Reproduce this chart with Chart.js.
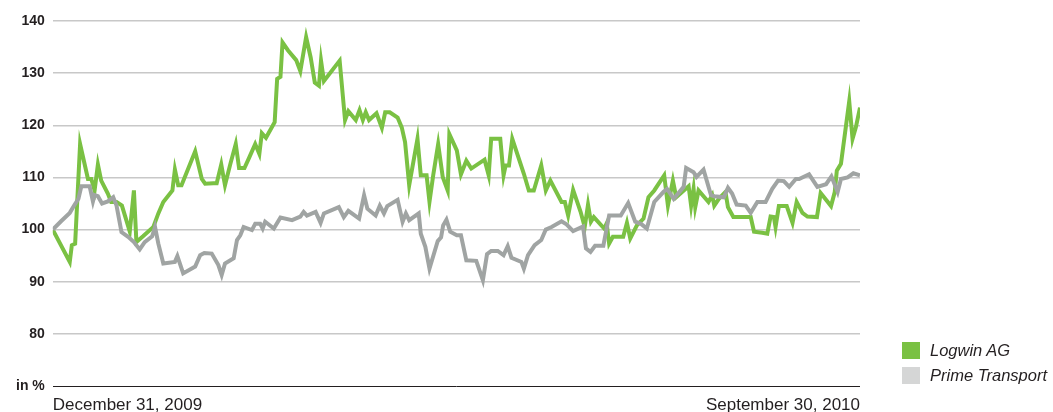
<!DOCTYPE html>
<html>
<head>
<meta charset="utf-8">
<script src="https://cdn.jsdelivr.net/npm/chart.js@4"></script>
<style>
  body { margin: 0; background: #fff; }
  #wrap { position: relative; width: 1053px; height: 412px; }
  .legend { position: absolute; left: 902px; font: italic 16.5px "Liberation Sans", Arial, sans-serif; color: #231f20; }
  .legend span { display: inline-block; width: 18px; height: 17px; vertical-align: middle; margin-right: 10px; position: relative; top: -1px; }
</style>
</head>
<body>
<div id="wrap">
  <canvas id="linechart"></canvas>
  <div class="legend" style="top:341px"><span style="background:#7ac143"></span>Logwin AG</div>
  <div class="legend" style="top:366px"><span style="background:#d5d6d6"></span>Prime Transport</div>
</div>
<script>
// trading days since December 31, 2009 (0 .. 195) and index values in %
const logwinDays = [0,4.1,4.6,5.4,6.6,8.5,9.3,10.1,10.9,11.7,
  13.3,14.1,15.4,16.7,18.6,19.6,20.2,21.8,24.3,25.5,
  26.7,28.9,29.5,30.3,31.1,34.4,36.0,36.8,38.8,39.6,
  40.7,41.6,42.9,44.2,45.0,46.3,47.5,48.9,49.9,50.5,
  51.5,53.6,54.2,55.0,55.5,56.8,58.8,59.8,61.2,62.3,
  63.3,64.3,64.8,65.5,69.3,70.6,71.4,73.2,74.1,74.9,
  75.6,76.4,78.2,79.5,80.3,81.4,83.3,84.3,85.1,86.1,
  88.1,88.9,90.3,91.0,91.9,93.1,94.2,95.4,95.8,97.6,
  98.6,99.9,101.1,104.3,105.3,105.9,108.1,108.9,109.4,110.2,
  111.0,113.8,115.0,116.2,118.0,119.1,120.2,122.9,123.7,124.5,
  125.7,127.5,128.5,129.3,130.0,130.7,133.2,133.8,134.4,135.3,
  137.8,138.7,139.5,141.1,142.7,143.9,145.3,147.7,148.6,149.8,
  150.6,153.6,154.2,154.8,155.2,156.0,158.4,159.3,159.8,160.9,
  162.5,163.1,164.4,168.6,169.4,171.4,172.6,173.4,174.2,174.6,
  175.4,177.3,178.7,179.7,181.1,182.3,184.6,185.5,188.0,188.9,
  189.4,190.4,192.4,193.2,194.0,195];
const logwinValues = [100,93.8,97.0,97.3,116.4,109.7,109.7,107.5,112.5,109.4,
  106.9,105.3,105.3,104.6,99.6,107.5,97.6,98.7,100.5,103.1,
  105.3,107.5,111.5,108.5,108.5,115.0,109.7,108.8,108.9,108.9,
  112.5,108.5,112.6,116.4,111.8,111.8,113.9,116.4,114.5,118.5,
  117.6,120.6,128.9,129.3,135.9,134.4,132.5,130.4,136.9,133.0,
  128.2,127.6,132.4,128.5,132.4,121.0,122.7,121.0,122.9,121.0,
  122.5,121.0,122.3,119.5,122.5,122.5,121.5,119.6,116.8,108.5,
  117.4,110.4,110.4,105.3,110.4,116.4,110.1,107.5,118.3,115.2,
  110.6,113.2,111.7,113.4,110.4,117.4,117.4,110.4,112.3,112.3,
  117.4,110.7,107.5,107.5,112.3,107.5,109.4,105.3,105.3,102.7,
  107.6,103.4,100.5,104.8,101.5,102.4,100.2,101.2,97.3,98.6,
  98.6,101.3,98.3,100.8,102.1,106.2,107.5,110.4,104.6,109.4,
  106.2,108.3,104.6,107.8,104.3,107.5,105.3,106.6,104.6,105.9,
  107.2,104.3,102.4,102.4,99.6,99.4,99.2,102.5,102.4,100.5,
  104.5,104.5,101.3,105.3,103.2,102.5,102.4,107.0,104.5,107.2,
  111.3,112.6,124.6,117.4,119.6,123.4];

const primeDays = [0,2.0,4.1,5.3,6.2,6.9,8.9,9.7,10.1,10.9,
  11.9,13.3,14.6,15.4,16.6,18.2,19.6,21.0,22.2,24.0,
  24.7,25.5,26.7,29.5,30.1,31.5,34.4,35.6,36.6,38.4,
  40.0,40.8,41.6,43.7,44.5,45.3,46.1,48.1,48.9,50.1,
  50.7,51.3,53.4,55.0,57.8,59.8,60.6,61.4,63.5,64.7,
  65.5,69.1,70.3,71.4,74.0,75.2,76.0,78.0,79.0,80.0,
  80.8,83.3,84.5,85.3,86.1,88.4,88.9,90.0,91.0,93.0,
  93.8,94.3,95.1,96.0,97.6,98.6,99.9,102.3,103.9,104.9,
  105.9,107.5,108.9,109.9,110.8,113.2,113.8,114.8,116.4,118.0,
  119.1,120.5,122.9,124.1,125.7,128.1,128.8,129.9,131.0,133.0,
  134.4,137.2,139.0,140.7,142.1,143.5,145.3,147.5,148.4,150.0,
  152.4,153.0,154.8,155.5,157.2,159.0,159.8,162.1,163.1,164.1,
  165.2,167.4,168.6,170.2,172.2,173.8,175.2,176.6,177.9,179.5,
  180.3,182.7,184.7,186.8,188.1,189.6,190.4,192.0,193.4,195];
const primeValues = [100,101.6,103.2,104.8,105.9,108.3,108.3,105.4,106.6,106.4,
  105.0,105.4,106.2,104.6,99.5,98.6,97.6,96.2,97.6,98.7,
  100.5,97.3,93.5,93.8,94.9,91.6,92.9,95.1,95.5,95.4,
  93.2,91.3,93.5,94.5,98.0,98.9,100.5,99.9,101.1,101.1,
  100.2,101.5,100.2,102.3,101.8,102.5,103.4,102.7,103.4,101.3,
  103.1,104.3,102.4,103.6,102.1,106.6,104.0,102.7,104.6,103.1,
  104.5,105.7,101.5,103.1,101.8,103.1,99.2,96.7,92.5,97.8,
  98.5,100.8,101.9,99.6,98.9,98.9,94.1,94.0,90.3,95.3,
  95.9,95.9,95.1,96.8,94.6,93.8,92.5,95.1,97.0,98.0,
  100.0,100.5,101.6,101.0,99.7,100.6,96.4,95.7,96.9,96.9,
  102.7,102.7,105.1,101.5,101.1,100.2,105.3,107.2,107.8,105.9,
  108.2,111.8,111.0,110.1,111.5,106.6,106.4,106.2,108.0,106.9,
  104.8,104.6,103.2,105.3,105.3,107.8,109.4,109.3,108.2,109.7,
  109.7,110.6,108.2,108.7,110.2,107.2,109.7,110.0,110.8,110.4];

const dateLabels = ['December 31, 2009', 'September 30, 2010'];
const dateTicks = [0, 195];
const yTicks = [70, 80, 90, 100, 110, 120, 130, 140];
const yUnitLabel = 'in %';

function toPoints(days, values) {
  return days.map((d, i) => ({ x: d, y: values[i] }));
}

const ctx = document.getElementById('linechart');

new Chart(ctx, {
  type: 'line',
  data: {
    datasets: [{
      label: 'Prime Transport',
      data: toPoints(primeDays, primeValues),
      borderColor: '#a0a4a3',
      backgroundColor: '#d5d6d6',
      borderWidth: 4,
      pointRadius: 0,
      tension: 0 },
    {
      label: 'Logwin AG',
      data: toPoints(logwinDays, logwinValues),
      borderColor: '#7ac143',
      backgroundColor: '#7ac143',
      borderWidth: 4,
      pointRadius: 0,
      tension: 0 }]},
  options: {
    responsive: true,
    maintainAspectRatio: false,
    animation: false,
    layout: { padding: { left: 8, right: 193, top: 21, bottom: -13 } },
    plugins: { legend: { display: false }, tooltip: { enabled: false } },
    scales: {
      x: {
        type: 'linear',
        min: dateTicks[0],
        max: dateTicks[1],
        afterBuildTicks: scale => { scale.ticks = dateTicks.map(v => ({ value: v })); },
        grid: { display: false, drawTicks: false },
        border: { display: false },
        ticks: {
          autoSkip: false,
          maxRotation: 0,
          align: 'inner',
          padding: 11,
          color: '#231f20',
          font: { family: '"Liberation Sans", Arial, sans-serif', size: 17, lineHeight: 1 },
          callback: value => dateLabels[dateTicks.indexOf(value)] }},
      y: {
        min: yTicks[0],
        max: yTicks[yTicks.length - 1],
        afterBuildTicks: scale => { scale.ticks = yTicks.map(v => ({ value: v })); },
        border: { display: false },
        grid: {
          drawTicks: false,
          color: c => c.tick.value === 70 ? '#231f20' : '#c8c8c8',
          lineWidth: c => c.tick.value === 70 ? 1 : 1.5 },
        ticks: {
          padding: 8,
          color: '#231f20',
          font: { family: '"Liberation Sans", Arial, sans-serif', size: 14, weight: 'bold' },
          callback: value => value === 70 ? yUnitLabel : value }}}}});
</script>
</body>
</html>
